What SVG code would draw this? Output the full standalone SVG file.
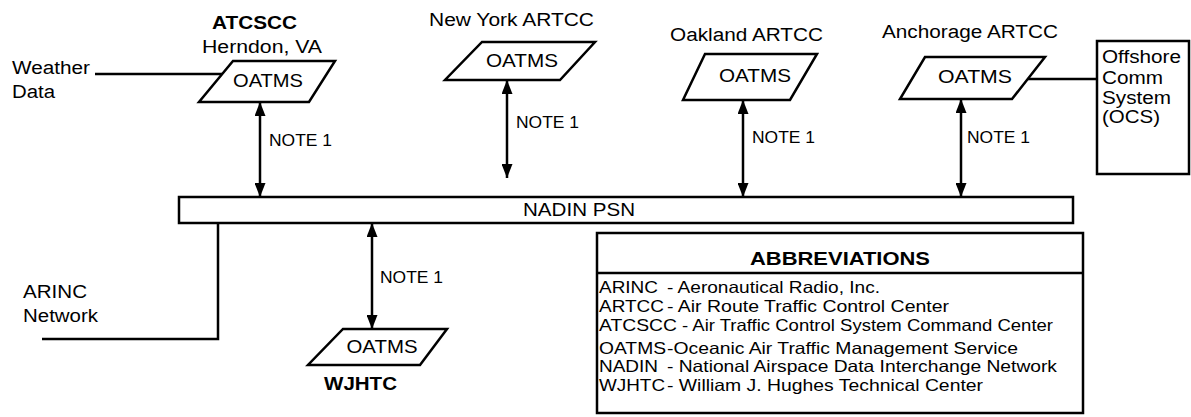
<svg xmlns="http://www.w3.org/2000/svg" width="1191" height="417" viewBox="0 0 1191 417">
<defs>
<style>
text{font-family:"Liberation Sans",Arial,sans-serif;fill:#000}
.l{font-size:18px}
.b{font-weight:bold}
.n{font-size:16px}
.a{font-size:16.5px}
.m{text-anchor:middle}
.box{fill:#fff;stroke:#000;stroke-width:2.5}
.ln{fill:none;stroke:#000;stroke-width:2.5}
.ar{fill:none;stroke:#000;stroke-width:2.5;marker-start:url(#ah);marker-end:url(#ah)}
</style>
<marker id="ah" viewBox="0 0 14 11" refX="14" refY="5.5" markerWidth="14" markerHeight="11" markerUnits="userSpaceOnUse" orient="auto-start-reverse">
<path d="M0,0 L14,5.5 L0,11 z" fill="#000"/>
</marker>
</defs>
<rect width="1191" height="417" fill="#fff"/>

<g id="connectors">
<path class="ln" d="M95,74 H222"/>
<path class="ln" d="M1028,79 H1097"/>
<path class="ln" d="M218,223 V339 H42"/>
<path class="ar" d="M260,102 V197"/>
<path class="ar" d="M507,80 V178"/>
<path class="ar" d="M743,100 V197"/>
<path class="ar" d="M961,99 V197"/>
<path class="ar" d="M372,223 V329"/>
<text class="n" x="269" y="146" textLength="63" lengthAdjust="spacingAndGlyphs">NOTE 1</text>
<text class="n" x="516" y="128" textLength="63" lengthAdjust="spacingAndGlyphs">NOTE 1</text>
<text class="n" x="752" y="143" textLength="63" lengthAdjust="spacingAndGlyphs">NOTE 1</text>
<text class="n" x="967" y="143" textLength="63" lengthAdjust="spacingAndGlyphs">NOTE 1</text>
<text class="n" x="380" y="283" textLength="63" lengthAdjust="spacingAndGlyphs">NOTE 1</text>
</g>

<g id="weather">
<text class="l" x="12" y="74" textLength="78" lengthAdjust="spacingAndGlyphs">Weather</text>
<text class="l" x="12" y="98" textLength="43" lengthAdjust="spacingAndGlyphs">Data</text>
</g>

<g id="arinc">
<text class="l" x="23" y="298" textLength="64" lengthAdjust="spacingAndGlyphs">ARINC</text>
<text class="l" x="23" y="322" textLength="75" lengthAdjust="spacingAndGlyphs">Network</text>
</g>

<g id="atcscc">
<text class="l b m" x="254.5" y="29" textLength="85" lengthAdjust="spacingAndGlyphs">ATCSCC</text>
<text class="l m" x="262" y="53" textLength="120" lengthAdjust="spacingAndGlyphs">Herndon, VA</text>
<polygon class="box" points="233,61 335,61 309,102 199,102"/>
<text class="l m" x="268" y="87" textLength="70" lengthAdjust="spacingAndGlyphs">OATMS</text>
</g>

<g id="newyork">
<text class="l m" x="511.5" y="26" textLength="165" lengthAdjust="spacingAndGlyphs">New York ARTCC</text>
<polygon class="box" points="482,42 595,42 560,80 445,80"/>
<text class="l m" x="522" y="67" textLength="72" lengthAdjust="spacingAndGlyphs">OATMS</text>
</g>

<g id="oakland">
<text class="l m" x="746.5" y="41" textLength="153" lengthAdjust="spacingAndGlyphs">Oakland ARTCC</text>
<polygon class="box" points="705,54 817,54 790,100 683,100"/>
<text class="l m" x="755" y="82" textLength="72" lengthAdjust="spacingAndGlyphs">OATMS</text>
</g>

<g id="anchorage">
<text class="l m" x="970" y="38" textLength="176" lengthAdjust="spacingAndGlyphs">Anchorage ARTCC</text>
<polygon class="box" points="925,57 1045,57 1012,99 900,99"/>
<text class="l m" x="975" y="83" textLength="74" lengthAdjust="spacingAndGlyphs">OATMS</text>
</g>

<g id="ocs">
<rect class="box" x="1097" y="41" width="92" height="133"/>
<text class="l" x="1102" y="63" textLength="79" lengthAdjust="spacingAndGlyphs">Offshore</text>
<text class="l" x="1102" y="84" textLength="61" lengthAdjust="spacingAndGlyphs">Comm</text>
<text class="l" x="1102" y="104" textLength="69" lengthAdjust="spacingAndGlyphs">System</text>
<text class="l" x="1102" y="123" textLength="58" lengthAdjust="spacingAndGlyphs">(OCS)</text>
</g>

<g id="nadin">
<rect class="box" x="179" y="197" width="894" height="26"/>
<text class="l m" x="579" y="216" textLength="112" lengthAdjust="spacingAndGlyphs">NADIN PSN</text>
</g>

<g id="wjhtc">
<polygon class="box" points="343,329 447,329 420,365 308,365"/>
<text class="l m" x="382" y="353" textLength="71" lengthAdjust="spacingAndGlyphs">OATMS</text>
<text class="l b" x="324" y="390" textLength="73" lengthAdjust="spacingAndGlyphs">WJHTC</text>
</g>

<g id="abbreviations">
<rect class="box" x="597" y="233" width="486" height="180"/>
<path class="ln" d="M597,273 H1083"/>
<text class="l b m" x="840" y="265" textLength="180" lengthAdjust="spacingAndGlyphs">ABBREVIATIONS</text>
<text class="a" x="599" y="293" textLength="59" lengthAdjust="spacingAndGlyphs">ARINC</text>
<text class="a" x="667" y="293" textLength="213" lengthAdjust="spacingAndGlyphs">- Aeronautical Radio, Inc.</text>
<text class="a" x="599" y="312" textLength="65" lengthAdjust="spacingAndGlyphs">ARTCC</text>
<text class="a" x="667" y="312" textLength="282" lengthAdjust="spacingAndGlyphs">- Air Route Traffic Control Center</text>
<text class="a" x="599" y="331" textLength="78" lengthAdjust="spacingAndGlyphs">ATCSCC</text>
<text class="a" x="682" y="331" textLength="371" lengthAdjust="spacingAndGlyphs">- Air Traffic Control System Command Center</text>
<text class="a" x="599" y="354" textLength="67" lengthAdjust="spacingAndGlyphs">OATMS</text>
<text class="a" x="667" y="354" textLength="351" lengthAdjust="spacingAndGlyphs">-Oceanic Air Traffic Management Service</text>
<text class="a" x="599" y="372" textLength="59" lengthAdjust="spacingAndGlyphs">NADIN</text>
<text class="a" x="667" y="372" textLength="390" lengthAdjust="spacingAndGlyphs">- National Airspace Data Interchange Network</text>
<text class="a" x="599" y="391" textLength="66" lengthAdjust="spacingAndGlyphs">WJHTC</text>
<text class="a" x="667" y="391" textLength="316" lengthAdjust="spacingAndGlyphs">- William J. Hughes Technical Center</text>
</g>
</svg>
